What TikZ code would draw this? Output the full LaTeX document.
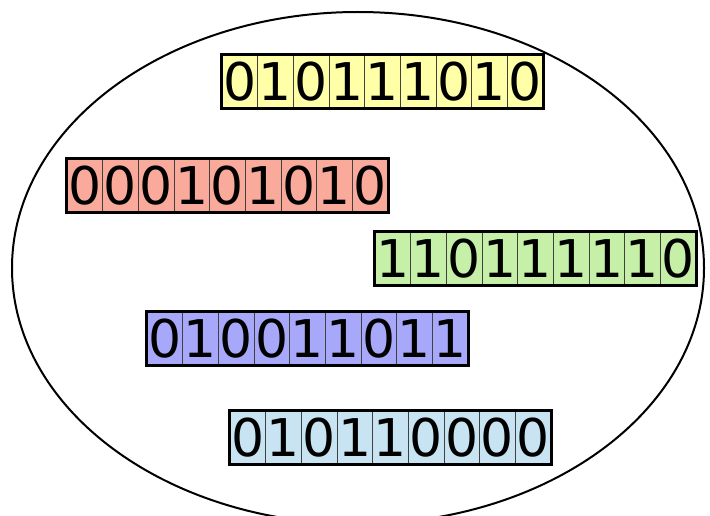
\documentclass[tikz,border=0pt]{standalone}
\usepackage{fontspec}
\setmainfont{DejaVu Sans}
\usetikzlibrary{shapes.geometric}
\definecolor{cyel}{RGB}{255,255,168}
\definecolor{cred}{RGB}{250,170,155}
\definecolor{cgrn}{RGB}{198,240,168}
\definecolor{cblu}{RGB}{168,168,250}
\definecolor{clbl}{RGB}{200,228,242}
\tikzset{
  cell/.style={draw=black!75, line width=0.8pt, rectangle, minimum width=35.67pt, minimum height=53pt, inner sep=0pt, text height=0.729*52pt, text depth=0pt, font=\fontsize{52}{52}\selectfont},
  frame/.style={draw=black, line width=2.6pt},
  setline/.style={draw=black, line width=2pt}
}
\begin{document}
\begin{tikzpicture}[x=1pt,y=-1pt]
\useasboundingbox (0,0) rectangle (710,516);
\clip (0,0) rectangle (710,516);
\node[setline, ellipse, minimum width=692pt, minimum height=512pt, inner sep=0pt] (set) at (358,268) {};
\foreach \name/\x/\y/\col/\bits in {
  yel/222/55/cyel/{0,1,0,1,1,1,0,1,0},
  red/67/159/cred/{0,0,0,1,0,1,0,1,0},
  grn/375/232/cgrn/{1,1,0,1,1,1,1,1,0},
  blu/147/312/cblu/{0,1,0,0,1,1,0,1,1},
  lbl/230/411/clbl/{0,1,0,1,1,0,0,0,0}} {
  \foreach \b [count=\i] in \bits {
    \node[cell, fill=\col] (\name\i) at (\x+35.67*\i-17.835, \y+26.5) {\b};
  }
  \draw[frame] (\name1.north west) rectangle (\name9.south east);
}
\end{tikzpicture}
\end{document}
